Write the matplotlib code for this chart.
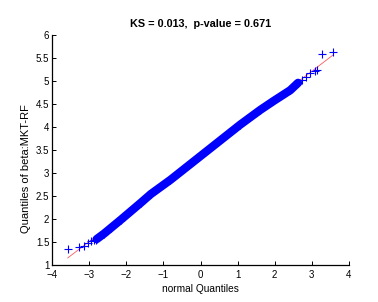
import matplotlib.pyplot as plt

plt.rcParams['font.family'] = ['Liberation Sans', 'DejaVu Sans']

# dense central part of the QQ band (normal quantile, sample quantile)
band_x = [-2.80, -2.60, -2.42, -2.15, -1.61, -1.34, -0.81, 0.13, 1.07, 1.61, 1.96, 2.42, 2.63]
band_y = [1.56, 1.68, 1.80, 1.98, 2.35, 2.54, 2.85, 3.45, 4.05, 4.37, 4.56, 4.80, 4.96]

# sparse tail points drawn as individual crosses
tail_x = [-3.58, -3.27, -3.13, -3.03, -2.95, -2.88, -2.82,
          2.74, 2.85, 2.95, 3.09, 3.14, 3.28, 3.57]
tail_y = [1.34, 1.38, 1.40, 1.48, 1.51, 1.53, 1.55,
          5.02, 5.09, 5.17, 5.22, 5.24, 5.59, 5.63]

# reference (fitted) line
fit_x = [-3.58, 3.58]
fit_y = [1.15, 5.57]

fig = plt.figure(figsize=(3.78, 3.02), dpi=100)
ax = fig.add_axes([0.138, 0.123, 0.785, 0.761])

ax.plot(fit_x, fit_y, color='#ff5a5a', lw=0.6, zorder=1)
ax.plot(band_x, band_y, color='#0000ff', lw=6, solid_capstyle='round', zorder=2)
ax.plot(band_x, band_y, ls='none', marker='+', ms=6, mew=0.8, color='#0000ff', zorder=2)
ax.plot(tail_x, tail_y, ls='none', marker='+', ms=6, mew=0.8, color='#0000ff', zorder=3)

ax.set_xlim(-4, 4)
ax.set_ylim(1, 6)
ax.set_xticks(range(-4, 5))
ax.set_yticks([1, 1.5, 2, 2.5, 3, 3.5, 4, 4.5, 5, 5.5, 6])
ax.set_yticklabels(['1', '1.5', '2', '2.5', '3', '3.5', '4', '4.5', '5', '5.5', '6'])
ax.tick_params(direction='in', length=3, width=0.7, labelsize=7)
ax.tick_params(axis='x', pad=3.5)
ax.tick_params(axis='y', pad=2)
ax.spines['top'].set_visible(False)
ax.spines['right'].set_visible(False)
for s in ('left', 'bottom'):
    ax.spines[s].set_linewidth(0.9)

ax.set_title('KS = 0.013,  p-value = 0.671', fontsize=7.8, fontweight='bold', pad=6)
ax.set_xlabel('normal Quantiles', fontsize=7.3, labelpad=3)
ax.set_ylabel('Quantiles of beta:MKT-RF', fontsize=8)
ax.yaxis.set_label_coords(-0.072, 0.42)

fig.savefig('out.png', dpi=100)
